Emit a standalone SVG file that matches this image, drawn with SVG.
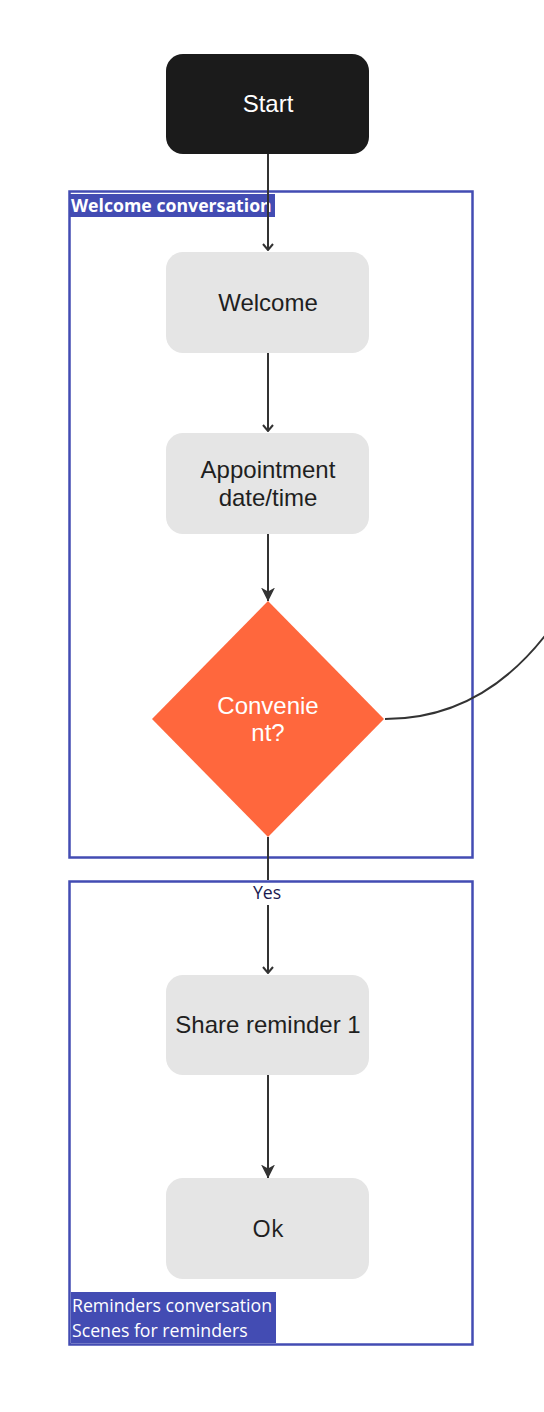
<svg xmlns="http://www.w3.org/2000/svg" width="544" height="1412" viewBox="0 0 544 1412">
<style>
.box{fill:#e5e5e5}
.lbl{font-family:"Liberation Sans",Arial,sans-serif;font-size:24px;fill:#1f1f1f;text-anchor:middle}
.wl{fill:#ffffff}
.cont{fill:none;stroke:#434cb3;stroke-width:2.5}
.conn{fill:none;stroke:#333333;stroke-width:2}
.tag{font-family:"Open Sans","Noto Sans",sans-serif;font-size:17.7px;fill:#ffffff}
</style>
<defs>
<marker id="open" viewBox="0 0 12 12" refX="11" refY="6" markerWidth="12" markerHeight="12" markerUnits="userSpaceOnUse" orient="auto">
<path d="M5,1 L11,6 L5,11" fill="none" stroke="#333333" stroke-width="2"/>
</marker>
<marker id="fill" viewBox="0 0 14 14" refX="13.5" refY="7" markerWidth="14" markerHeight="14" markerUnits="userSpaceOnUse" orient="auto">
<path d="M0,0 L4,7 L0,14 L14,7 Z" fill="#333333"/>
</marker>
</defs>
<rect width="544" height="1412" fill="#ffffff"/>
<g id="container-welcome">
<rect class="cont" x="69.5" y="191.5" width="403" height="666"/>
<rect x="69" y="194" width="206" height="23" fill="#434cb3"/>
<text x="71" y="212" class="tag" style="font-weight:bold">Welcome conversation</text>
</g>
<g id="container-reminders">
<rect class="cont" x="69.5" y="881.5" width="403" height="463"/>
<rect x="71" y="1292" width="205" height="51" fill="#434cb3"/>
<text x="72" y="1312" class="tag">Reminders conversation</text>
<text x="72" y="1337" class="tag">Scenes for reminders</text>
</g>
<g id="connectors">
<path class="conn" d="M268,154 L268,250" marker-end="url(#open)"/>
<path class="conn" d="M268,353 L268,431" marker-end="url(#open)"/>
<path class="conn" d="M268,534 L268,601" marker-end="url(#fill)"/>
<path class="conn" d="M268,837 L268,880 M268,905 L268,973" marker-end="url(#open)"/>
<path class="conn" d="M268,1075 L268,1178" marker-end="url(#fill)"/>
<path class="conn" d="M385,719 C450,719 510,690 560,615"/>
<text x="267" y="899" text-anchor="middle" style="font-family:'Open Sans','Noto Sans',sans-serif;font-size:17.7px;fill:#1a1a50">Yes</text>
</g>
<g id="node-start">
<rect x="166" y="54" width="203" height="100" rx="17" fill="#1b1b1b"/>
<text x="268" y="112" class="lbl wl">Start</text>
</g>
<g id="node-welcome">
<rect class="box" x="166" y="252" width="203" height="101" rx="17"/>
<text x="268" y="311" class="lbl">Welcome</text>
</g>
<g id="node-appointment">
<rect class="box" x="166" y="433" width="203" height="101" rx="17"/>
<text x="268" y="478" class="lbl">Appointment</text>
<text x="268" y="506" class="lbl">date/time</text>
</g>
<g id="node-convenient">
<polygon points="268,601 384,719 268,837 152,719" fill="#ff673d"/>
<text x="268" y="714" class="lbl wl">Convenie</text>
<text x="268" y="741" class="lbl wl">nt?</text>
</g>
<g id="node-share">
<rect class="box" x="166" y="975" width="203" height="100" rx="17"/>
<text x="268" y="1033" class="lbl">Share reminder 1</text>
</g>
<g id="node-ok">
<rect class="box" x="166" y="1178" width="203" height="101" rx="17"/>
<text x="268" y="1237" class="lbl" style="font-family:'Open Sans','Noto Sans',sans-serif">Ok</text>
</g>
</svg>
